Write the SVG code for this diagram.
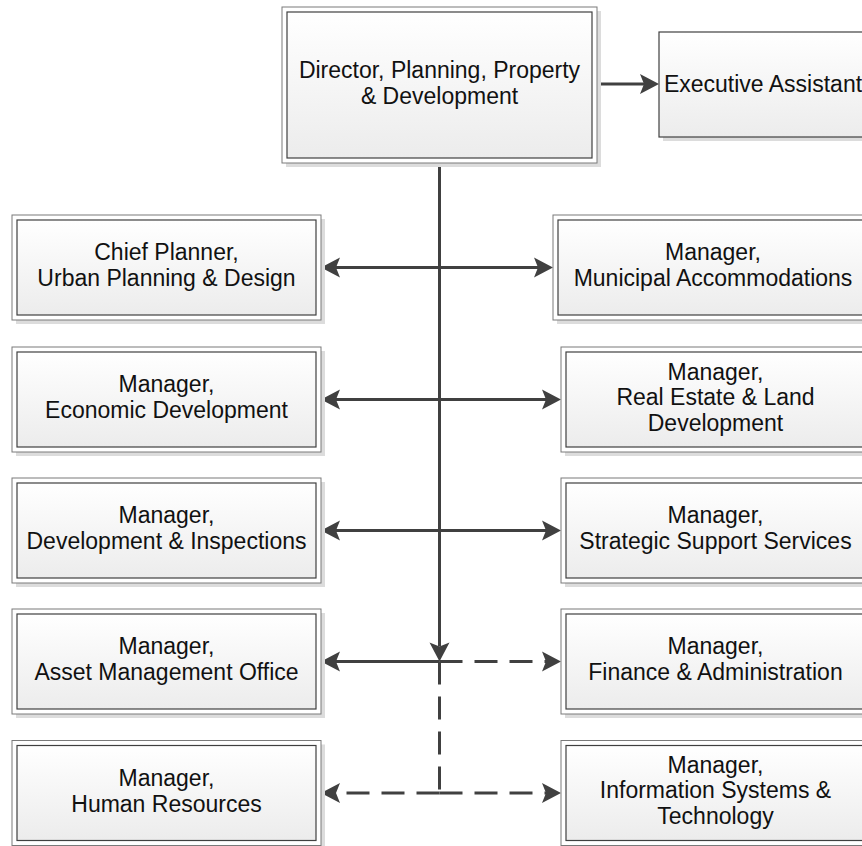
<svg xmlns="http://www.w3.org/2000/svg" width="862" height="846" viewBox="0 0 862 846">
  <style>
    .shadow { fill: #dcdcdc; }
    .outer { fill: #fff; stroke: #7a7a7a; stroke-width: 1; }
    .inner { fill: url(#boxFill); stroke: #404040; stroke-width: 1.2; }
    .single { fill: url(#boxFill); stroke: #404040; stroke-width: 1.2; }
    .label { font-family: "Liberation Sans", Arial, sans-serif; font-size: 23px; fill: #111; text-anchor: middle; }
    .wire { fill: none; stroke: #404040; stroke-width: 3; }
    .dash { stroke-dasharray: 23 12; }
  </style>
  <defs>
    <linearGradient id="boxFill" x1="0" y1="0" x2="0" y2="1">
      <stop offset="0" stop-color="#ffffff"/>
      <stop offset="1" stop-color="#ececec"/>
    </linearGradient>
    <marker id="arrow" viewBox="-1 -11 22 22" markerUnits="userSpaceOnUse" markerWidth="22" markerHeight="22" refX="4" refY="0" orient="auto-start-reverse">
      <path d="M0,-10 L19,0 L0,10 L4,0 z" fill="#404040"/>
    </marker>
  </defs>

  <!-- connectors -->
  <g id="connectors">
    <!-- director to executive assistant -->
    <line class="wire" x1="597" y1="84" x2="644" y2="84" marker-end="url(#arrow)"/>
    <!-- main trunk -->
    <line class="wire" x1="439.5" y1="163" x2="439.5" y2="646.5" marker-end="url(#arrow)"/>
    <!-- row 1 -->
    <line class="wire" x1="336" y1="267.5" x2="538" y2="267.5" marker-start="url(#arrow)" marker-end="url(#arrow)"/>
    <!-- row 2 -->
    <line class="wire" x1="336" y1="399.5" x2="546" y2="399.5" marker-start="url(#arrow)" marker-end="url(#arrow)"/>
    <!-- row 3 -->
    <line class="wire" x1="336" y1="530.5" x2="546" y2="530.5" marker-start="url(#arrow)" marker-end="url(#arrow)"/>
    <!-- row 4 -->
    <line class="wire" x1="439.5" y1="661.5" x2="336" y2="661.5" marker-end="url(#arrow)"/>
    <line class="wire dash" x1="439.5" y1="661.5" x2="546" y2="661.5" marker-end="url(#arrow)"/>
    <!-- dashed branch down to row 5 -->
    <line class="wire dash" x1="439.5" y1="661.5" x2="439.5" y2="793"/>
    <line class="wire dash" x1="439.5" y1="793" x2="336" y2="793" marker-end="url(#arrow)"/>
    <line class="wire dash" x1="439.5" y1="793" x2="546" y2="793" marker-end="url(#arrow)"/>
  </g>

  <!-- Director -->
  <g id="director">
    <rect class="shadow" x="286" y="11" width="315" height="156"/>
    <rect class="outer" x="282" y="7" width="315" height="156"/>
    <rect class="inner" x="287" y="12" width="305" height="146"/>
    <text class="label" x="439.5" y="78">Director, Planning, Property</text>
    <text class="label" x="439.5" y="104">&amp; Development</text>
  </g>

  <!-- Executive Assistant -->
  <g id="executive-assistant">
    <rect class="shadow" x="663" y="36" width="210" height="105"/>
    <rect class="single" x="659" y="32" width="210" height="105"/>
    <text class="label" x="763" y="91.5">Executive Assistant</text>
  </g>

  <!-- left column -->
  <g id="chief-planner">
    <rect class="shadow" x="16" y="219" width="309" height="105"/>
    <rect class="outer" x="12" y="215" width="309" height="105"/>
    <rect class="inner" x="17" y="220" width="299" height="95"/>
    <text class="label" x="166.5" y="260">Chief Planner,</text>
    <text class="label" x="166.5" y="286">Urban Planning &amp; Design</text>
  </g>
  <g id="economic-development">
    <rect class="shadow" x="16" y="351" width="309" height="105"/>
    <rect class="outer" x="12" y="347" width="309" height="105"/>
    <rect class="inner" x="17" y="352" width="299" height="95"/>
    <text class="label" x="166.5" y="392">Manager,</text>
    <text class="label" x="166.5" y="418">Economic Development</text>
  </g>
  <g id="development-inspections">
    <rect class="shadow" x="16" y="482" width="309" height="105"/>
    <rect class="outer" x="12" y="478" width="309" height="105"/>
    <rect class="inner" x="17" y="483" width="299" height="95"/>
    <text class="label" x="166.5" y="523">Manager,</text>
    <text class="label" x="166.5" y="549">Development &amp; Inspections</text>
  </g>
  <g id="asset-management">
    <rect class="shadow" x="16" y="613" width="309" height="105"/>
    <rect class="outer" x="12" y="609" width="309" height="105"/>
    <rect class="inner" x="17" y="614" width="299" height="95"/>
    <text class="label" x="166.5" y="654">Manager,</text>
    <text class="label" x="166.5" y="680">Asset Management Office</text>
  </g>
  <g id="human-resources">
    <rect class="shadow" x="16" y="744.5" width="309" height="105"/>
    <rect class="outer" x="12" y="740.5" width="309" height="105"/>
    <rect class="inner" x="17" y="745.5" width="299" height="95"/>
    <text class="label" x="166.5" y="785.5">Manager,</text>
    <text class="label" x="166.5" y="811.5">Human Resources</text>
  </g>

  <!-- right column -->
  <g id="municipal-accommodations">
    <rect class="shadow" x="557" y="219" width="320" height="105"/>
    <rect class="outer" x="553" y="215" width="320" height="105"/>
    <rect class="inner" x="558" y="220" width="310" height="95"/>
    <text class="label" x="713" y="260">Manager,</text>
    <text class="label" x="713" y="286">Municipal Accommodations</text>
  </g>
  <g id="real-estate">
    <rect class="shadow" x="565" y="351" width="309" height="105"/>
    <rect class="outer" x="561" y="347" width="309" height="105"/>
    <rect class="inner" x="566" y="352" width="299" height="95"/>
    <text class="label" x="715.5" y="379.5">Manager,</text>
    <text class="label" x="715.5" y="405">Real Estate &amp; Land</text>
    <text class="label" x="715.5" y="430.5">Development</text>
  </g>
  <g id="strategic-support">
    <rect class="shadow" x="565" y="482" width="309" height="105"/>
    <rect class="outer" x="561" y="478" width="309" height="105"/>
    <rect class="inner" x="566" y="483" width="299" height="95"/>
    <text class="label" x="715.5" y="523">Manager,</text>
    <text class="label" x="715.5" y="549">Strategic Support Services</text>
  </g>
  <g id="finance-administration">
    <rect class="shadow" x="565" y="613" width="309" height="105"/>
    <rect class="outer" x="561" y="609" width="309" height="105"/>
    <rect class="inner" x="566" y="614" width="299" height="95"/>
    <text class="label" x="715.5" y="654">Manager,</text>
    <text class="label" x="715.5" y="680">Finance &amp; Administration</text>
  </g>
  <g id="information-systems">
    <rect class="shadow" x="565" y="744.5" width="309" height="105"/>
    <rect class="outer" x="561" y="740.5" width="309" height="105"/>
    <rect class="inner" x="566" y="745.5" width="299" height="95"/>
    <text class="label" x="715.5" y="772.5">Manager,</text>
    <text class="label" x="715.5" y="798">Information Systems &amp;</text>
    <text class="label" x="715.5" y="823.5">Technology</text>
  </g>
</svg>
